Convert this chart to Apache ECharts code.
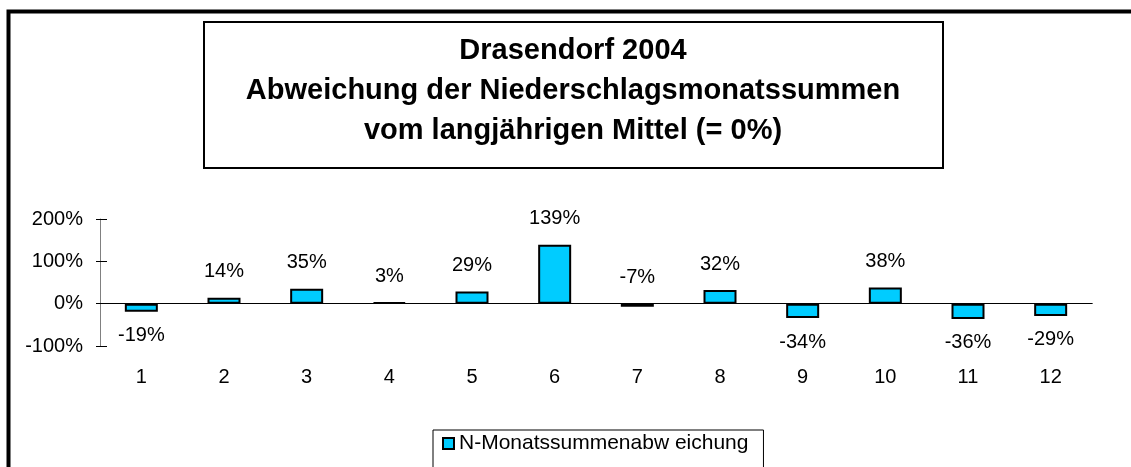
<!DOCTYPE html>
<html>
<head>
<meta charset="utf-8">
<title>Drasendorf 2004</title>
<script src="https://cdn.jsdelivr.net/npm/echarts@6/dist/echarts.min.js"></script>
<style>
  html, body { margin: 0; padding: 0; background: #fff; }
  #chart { width: 1131px; height: 467px; }
</style>
</head>
<body>
<div id="chart"></div>
<script>
  // Monate und Abweichung vom langjaehrigen Mittel (%)
  const months = ['1', '2', '3', '4', '5', '6', '7', '8', '9', '10', '11', '12'];
  const deviation = [-19, 14, 35, 3, 29, 139, -7, 32, -34, 38, -36, -29];
  const yMin = -100;
  const yMax = 200;
  const yStep = 100;
  const seriesName = 'N-Monatssummenabw eichung';
  const titleLines = [
    'Drasendorf 2004',
    'Abweichung der Niederschlagsmonatssummen',
    'vom langjährigen Mittel (= 0%)'
  ];

  const font = 'Liberation Sans, Arial, sans-serif';
  const barColor = '#00CCFF';

  const chart = echarts.init(document.getElementById('chart'));

  // kleine negative Werte bekommen ihr Label oben (wie im Original)
  const barData = deviation.map(function (v) {
    const above = v > -10;
    return {
      value: v,
      label: { position: above ? 'top' : 'bottom', distance: above ? 16 : 14 }
    };
  });

  chart.setOption({
    animation: false,
    backgroundColor: '#fff',
    title: {
      text: titleLines.join('\n'),
      left: 573,
      top: 31,
      padding: 0,
      textAlign: 'center',
      textStyle: {
        fontFamily: font,
        fontSize: 29,
        fontWeight: 'bold',
        color: '#000',
        lineHeight: 40
      }
    },
    graphic: [
      {
        type: 'rect',
        silent: true,
        shape: { x: 8.5, y: 11.5, width: 1200, height: 600 },
        style: { fill: 'none', stroke: '#000', lineWidth: 4 }
      },
      {
        type: 'rect',
        silent: true,
        shape: { x: 204, y: 22, width: 739, height: 146 },
        style: { fill: 'none', stroke: '#000', lineWidth: 2 }
      }
    ],
    legend: {
      data: [seriesName],
      left: 433,
      top: 430,
      padding: [3, 15, 30, 9],
      borderColor: '#000',
      borderWidth: 1,
      itemWidth: 11,
      itemHeight: 11,
      itemGap: 0,
      icon: 'rect',
      textStyle: { fontFamily: font, fontSize: 21, color: '#000' }
    },
    grid: { left: 100, right: 39, top: 219, bottom: 121 },
    xAxis: [
      {
        type: 'category',
        data: months,
        position: 'bottom',
        axisLine: { onZero: true, lineStyle: { color: '#000', width: 1 } },
        axisTick: { inside: true, length: 6, lineStyle: { color: '#000' } },
        axisLabel: { margin: 21, fontFamily: font, fontSize: 20, color: '#000' }
      },
      {
        type: 'category',
        data: months,
        position: 'bottom',
        axisLine: { onZero: true, lineStyle: { color: '#000', width: 1 } },
        axisTick: { inside: false, length: 6, lineStyle: { color: '#000' } },
        axisLabel: { show: false }
      }
    ],
    yAxis: [
      {
        type: 'value',
        position: 'left',
        min: yMin,
        max: yMax,
        interval: yStep,
        splitLine: { show: false },
        axisLine: { show: true, lineStyle: { color: '#808080' } },
        axisTick: { show: true, length: 4, lineStyle: { color: '#000' } },
        axisLabel: {
          formatter: '{value}%',
          margin: 17,
          fontFamily: font,
          fontSize: 20,
          color: '#000'
        }
      },
      {
        type: 'value',
        position: 'left',
        min: yMin,
        max: yMax,
        interval: yStep,
        splitLine: { show: false },
        axisLine: { show: false },
        axisTick: { show: true, inside: true, length: 7, lineStyle: { color: '#000' } },
        axisLabel: { show: false }
      }
    ],
    series: [
      {
        name: seriesName,
        type: 'bar',
        xAxisIndex: 0,
        yAxisIndex: 0,
        barWidth: 33,
        data: barData,
        itemStyle: { color: barColor, borderColor: '#000', borderWidth: 2 },
        label: {
          show: true,
          formatter: '{c}%',
          fontFamily: font,
          fontSize: 20,
          color: '#000'
        }
      }
    ]
  });
</script>
</body>
</html>
